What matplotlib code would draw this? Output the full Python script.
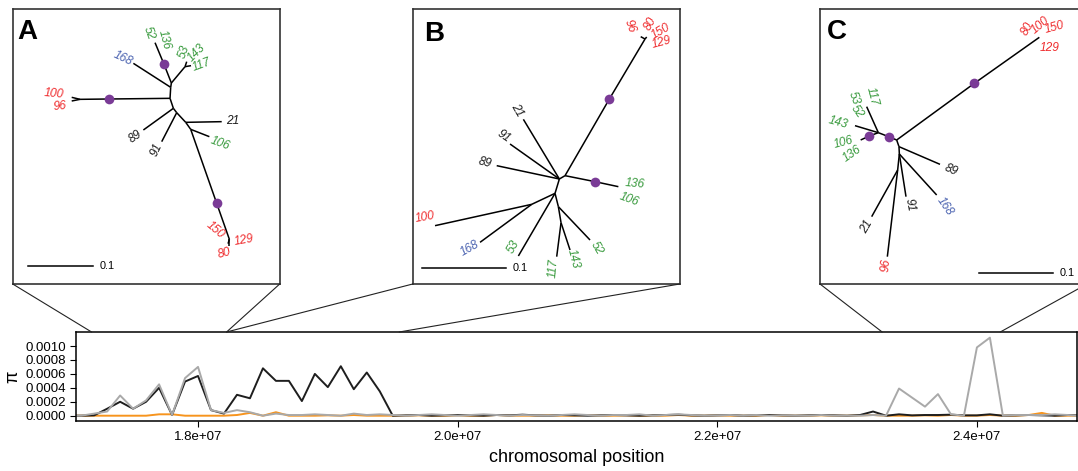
import numpy as np
import matplotlib.pyplot as plt
from matplotlib.patches import ConnectionPatch

plt.rcParams['font.family'] = ['Liberation Sans', 'DejaVu Sans']

W, H = 1078, 471

# nucleotide diversity per 100 kb window, in units of 1e-4
window_start = np.arange(17_000_000, 24_800_001, 100_000)
pi_black = [0.0, 0.0, 0.05, 1.0, 2.0, 1.0, 2.0, 4.0, 0.1, 4.9,
            5.7, 0.8, 0.3, 3.0, 2.5, 6.8, 5.0, 5.0, 2.1, 6.0,
            4.1, 7.1, 3.8, 6.2, 3.5, 0.0,
            0.05, 0.1, 0.0, 0.05, 0.1, 0.05, 0.0, 0.1, 0.05, 0.15,
            0.05, 0.0, 0.1, 0.05, 0.0, 0.05, 0.1, 0.05, 0.0, 0.05,
            0.1, 0.15, 0.05, 0.0, 0.05, 0.1, 0.0, 0.05, 0.1, 0.05,
            0.0, 0.05, 0.1, 0.05, 0.0, 0.1,
            0.6, 0.0, 0.2, 0.05, 0.1, 0.1, 0.15, 0.05, 0.05, 0.2,
            0.0, 0.05, 0.1, 0.05, 0.0, 0.1, 0.05]
pi_gray = [0.0, 0.0, 0.3, 0.6, 2.9, 1.0, 2.2, 4.5, 0.1, 5.4,
           7.0, 0.8, 0.4, 0.8, 0.5, 0.0, 0.3, 0.1, 0.1, 0.2,
           0.1, 0.0, 0.3, 0.1, 0.2, 0.1,
           0.0, 0.1, 0.2, 0.1, 0.0, 0.1, 0.2, 0.1, 0.0, 0.1,
           0.05, 0.0, 0.1, 0.2, 0.1, 0.0, 0.1, 0.1, 0.2, 0.0,
           0.1, 0.2, 0.1, 0.0, 0.05, 0.1, 0.0, 0.1, 0.0, 0.05,
           0.0, 0.0, 0.1, 0.0, 0.0, 0.0,
           0.1, 0.0, 3.9, 2.6, 1.3, 3.1, 0.2, 0.0, 9.8, 11.2,
           0.0, 0.1, 0.1, 0.1, 0.2, 0.1, 0.0]
pi_orange = [0.0, 0.0, 0.0, 0.0, 0.0, 0.0, 0.0, 0.2, 0.2, 0.0,
             0.0, 0.0, 0.0, 0.1, 0.4, 0.0, 0.5, 0.0, 0.0, 0.0,
             0.05, 0.0, 0.1, 0.0, 0.0, 0.0,
             0.0, 0.05, 0.0, 0.0, 0.05, 0.0, 0.0, 0.1, 0.0, 0.0,
             0.0, 0.05, 0.0, 0.0, 0.1, 0.0, 0.0, 0.05, 0.0, 0.0,
             0.0, 0.1, 0.0, 0.0, 0.05, 0.0, 0.0, 0.0, 0.1, 0.0,
             0.0, 0.0, 0.05, 0.0, 0.0, 0.05,
             0.1, 0.0, 0.0, 0.0, 0.05, 0.0, 0.1, 0.0, 0.0, 0.1,
             0.0, 0.0, 0.1, 0.4, 0.0, 0.0, 0.05]

x_ticks = [1.8e7, 2.0e7, 2.2e7, 2.4e7]
y_ticks = [0.0, 0.0002, 0.0004, 0.0006, 0.0008, 0.0010]

# windows shown as trees in panels A, B, C
regions = [(1.718e7, 1.822e7), (1.822e7, 1.955e7), (2.327e7, 2.418e7)]

COLORS = {'r': '#ef2b2d', 'g': '#3a9b3f', 'b': '#4a62b0', 'k': '#1a1a1a'}
PURPLE = '#7a3b96'

# unrooted tree layouts (panel units, y downwards)
tree_a = {
    'nodes': {
        'r0': (476, 222), 'r1': (474, 235), 'r2': (472, 268), 'r3': (482, 298),
        'r4': (492, 311), 'r5': (519, 340), 'r6': (534, 361),
        'd52': (454, 166), 't52': (427, 101), 't168': (362, 163),
        'n53': (517, 173), 't53': (522, 158), 't117': (535, 170),
        'd100': (289, 270), 'n100': (202, 271), 't100': (177, 265), 't96': (177, 276),
        't89': (392, 363), 't91': (447, 398), 't21': (627, 338), 't106': (590, 383),
        'd150': (612, 583), 'n150': (650, 691), 't150': (650, 710), 't80': (646, 704),
    },
    'edges': [('r0', 'r1'), ('r1', 'r2'), ('r2', 'r3'), ('r3', 'r4'), ('r4', 'r5'), ('r5', 'r6'),
              ('r0', 'd52'), ('d52', 't52'), ('r1', 't168'), ('r0', 'n53'), ('n53', 't53'),
              ('n53', 't117'), ('r2', 'd100'), ('d100', 'n100'), ('n100', 't100'), ('n100', 't96'),
              ('r3', 't89'), ('r4', 't91'), ('r5', 't21'), ('r6', 't106'),
              ('r6', 'd150'), ('d150', 'n150'), ('n150', 't150'), ('n150', 't80')],
    'dots': ['d52', 'd100', 'd150'],
    'labels': [("52", 407, 73, -70, 'g'), ("136", 455, 91, -75, 'g'), ("53", 515, 128, 70, 'g'),
               ("143", 552, 133, 45, 'g'), ("117", 567, 168, 20, 'g'), ("168", 332, 148, -25, 'b'),
               ("100", 122, 255, -5, 'r'), ("96", 142, 293, 5, 'r'), ("89", 367, 383, 35, 'k'),
               ("91", 432, 423, 65, 'k'), ("21", 659, 335, 0, 'k'), ("106", 622, 403, -20, 'g'),
               ("150", 607, 663, -40, 'r'), ("129", 695, 695, 10, 'r'), ("80", 634, 733, 15, 'r')],
    'scale': (47, 242, 771),
    'letter': ("A", 14, 91),
}

tree_b = {
    'nodes': {
        'c1': (440, 510), 'c2': (457, 500), 'c3': (427, 553), 'c4': (437, 593), 'c5': (445, 641),
        'n1': (357, 586),
        't21': (332, 331), 't91': (292, 405), 't89': (252, 470),
        'dred': (590, 270), 'nred': (697, 90), 't96': (684, 83), 't80': (702, 84),
        'dgrn': (547, 518), 'tgrn': (617, 533),
        't100': (67, 650), 't168': (202, 700), 't53': (317, 741),
        't117': (432, 743), 't143': (472, 723), 't52': (532, 693),
    },
    'edges': [('c2', 'c1'), ('c1', 'c3'), ('c3', 'c4'), ('c4', 'c5'),
              ('c1', 't21'), ('c1', 't91'), ('c1', 't89'),
              ('c2', 'dred'), ('dred', 'nred'), ('nred', 't96'), ('nred', 't80'),
              ('c2', 'dgrn'), ('dgrn', 'tgrn'), ('c3', 'n1'), ('n1', 't100'), ('n1', 't168'),
              ('c3', 't53'), ('c4', 't52'), ('c5', 't117'), ('c5', 't143')],
    'dots': ['dred', 'dgrn'],
    'labels': [("96", 652, 53, -70, 'r'), ("80", 712, 43, 60, 'r'), ("150", 744, 68, 30, 'r'),
               ("129", 747, 101, 15, 'r'), ("21", 314, 303, -60, 'k'), ("91", 272, 381, -35, 'k'),
               ("89", 217, 461, -15, 'k'), ("136", 667, 525, -5, 'g'), ("106", 650, 571, -20, 'g'),
               ("100", 37, 625, 10, 'r'), ("168", 170, 718, 30, 'b'), ("53", 302, 713, 60, 'g'),
               ("117", 422, 778, 85, 'g'), ("143", 482, 748, -75, 'g'), ("52", 552, 718, -60, 'g')],
    'scale': (27, 280, 778),
    'letter': ("B", 34, 95),
}

tree_c = {
    'nodes': {
        'j1': (230, 393), 'j2': (206, 383), 'j3': (175, 371), 'd136': (148, 381), 't136': (122, 393),
        't117': (140, 293), 't143': (105, 350), 'dred': (463, 223), 'nred': (658, 85),
        'j4': (237, 413), 'j5': (238, 435), 'j6': (233, 483),
        't89': (360, 466), 't168': (350, 558), 't91': (258, 563), 't21': (155, 623), 't96': (202, 743),
    },
    'edges': [('j1', 'j2'), ('j2', 'j3'), ('j3', 'd136'), ('d136', 't136'), ('j3', 't117'),
              ('j3', 't143'), ('j1', 'dred'), ('dred', 'nred'), ('j1', 'j4'), ('j4', 'j5'),
              ('j5', 'j6'), ('j4', 't89'), ('j5', 't168'), ('j5', 't91'), ('j6', 't21'), ('j6', 't96')],
    'dots': ['j2', 'd136', 'dred'],
    'labels': [("80", 623, 58, 60, 'r'), ("100", 660, 48, 40, 'r'), ("150", 705, 56, 15, 'r'),
               ("129", 688, 118, 0, 'r'), ("117", 155, 263, -75, 'g'), ("53", 100, 268, -70, 'g'),
               ("52", 112, 308, -55, 'g'), ("143", 55, 341, -15, 'g'), ("106", 72, 401, 15, 'g'),
               ("136", 95, 435, 35, 'g'), ("89", 392, 483, -25, 'k'), ("168", 375, 593, -55, 'b'),
               ("91", 270, 588, -80, 'k'), ("21", 140, 653, 60, 'k'), ("96", 198, 768, 85, 'r')],
    'scale': (478, 700, 793),
    'letter': ("C", 22, 91),
}


def px_rect(left, top, width, height):
    return [left / W, 1 - (top + height) / H, width / W, height / H]


def draw_tree(ax, tree):
    nodes = tree['nodes']
    for a, b in tree['edges']:
        (x1, y1), (x2, y2) = nodes[a], nodes[b]
        ax.plot([x1, x2], [y1, y2], color='black', lw=1.1, solid_capstyle='butt')
    ax.plot([nodes[d][0] for d in tree['dots']], [nodes[d][1] for d in tree['dots']],
            'o', color=PURPLE, ms=7, mec='none', zorder=3)
    for text, x, y, rot, col in tree['labels']:
        ax.text(x, y, text, rotation=rot, rotation_mode='anchor', ha='center', va='center',
                color=COLORS[col], fontsize=8.6, style='italic')
    x0, x1, y = tree['scale']
    ax.plot([x0, x1], [y, y], color='black', lw=1.1)
    ax.text(x1 + 20, y, "0.1", ha='left', va='center', fontsize=7.8)
    letter, lx, ly = tree['letter']
    ax.text(lx, ly, letter, ha='left', va='baseline', fontsize=20, fontweight='bold')
    ax.set_xlim(0, 801)
    ax.set_ylim(825, 0)
    ax.set_xticks([])
    ax.set_yticks([])
    for s in ax.spines.values():
        s.set_linewidth(1.2)
        s.set_color('#333333')


fig = plt.figure(figsize=(W / 100, H / 100), dpi=100)

ax = fig.add_axes(px_rect(76, 332, 1001, 89))
ax.plot(window_start, np.array(pi_orange) * 1e-4, color='#f7941d', lw=1.4)
ax.plot(window_start, np.array(pi_black) * 1e-4, color='#1e1e1e', lw=1.4)
ax.plot(window_start, np.array(pi_gray) * 1e-4, color='#a9a9a9', lw=1.4)
ax.set_xlim(1.706e7, 2.4771e7)
ax.set_ylim(-0.000076, 0.001201)
ax.set_xticks(x_ticks)
ax.set_xticklabels([f"{v:.1e}" for v in x_ticks])
ax.set_yticks(y_ticks)
ax.set_yticklabels([f"{v:.4f}" for v in y_ticks])
ax.tick_params(direction='out', length=4, width=0.8, labelsize=9.5, pad=3)
for s in ax.spines.values():
    s.set_linewidth(1.1)
ax.set_xlabel("chromosomal position", fontsize=13)
ax.xaxis.set_label_coords(0.5, -(462 - 421) / 89)
ax.xaxis.label.set_va('baseline')
ax.set_ylabel("π", fontsize=13)
ax.yaxis.set_label_coords(-0.055, 0.5)

panel_lefts = [12.7, 412.7, 820]
for left, tree, (start, end) in zip(panel_lefts, [tree_a, tree_b, tree_c], regions):
    pax = fig.add_axes(px_rect(left, 9, 267, 275))
    draw_tree(pax, tree)
    for corner, pos in [((0, 0), start), ((1, 0), end)]:
        con = ConnectionPatch(xyA=corner, coordsA=pax.transAxes,
                              xyB=(pos, 1), coordsB=ax.get_xaxis_transform(),
                              color='#222222', lw=0.8)
        fig.add_artist(con)

fig.savefig("out.png", dpi=100)
